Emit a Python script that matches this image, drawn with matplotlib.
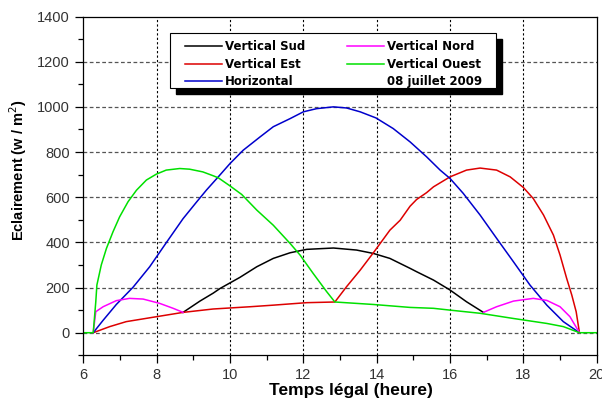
import numpy as np
import matplotlib
matplotlib.use("Agg")
import matplotlib.pyplot as plt
from matplotlib.lines import Line2D
from matplotlib.patches import Rectangle
from matplotlib.ticker import MultipleLocator

# ---- data ----
t_hor = [6.27, 6.54, 6.9, 7.36, 7.81, 8.26, 8.72, 9.08, 9.36, 9.68, 10.0, 10.36, 10.82,
         11.18, 11.64, 12.0, 12.36, 12.82, 13.18, 13.55, 13.98, 14.45, 14.91, 15.36,
         15.73, 16.0, 16.36, 16.82, 17.27, 17.73, 18.18, 18.64, 19.09, 19.53]
v_hor = [0, 55, 125, 202, 292, 398, 505, 577, 632, 690, 749, 808, 867,
         912, 948, 978, 992, 1000, 995, 978, 951, 904, 845, 779,
         720, 683, 617, 521, 418, 314, 211, 122, 49, 0]

t_ouest = [6.0, 6.27, 6.34, 6.37, 6.49, 6.63, 6.81, 6.99, 7.22, 7.45, 7.72, 7.99, 8.26,
           8.63, 8.9, 9.26, 9.54, 9.68, 10.0, 10.32, 10.73, 11.18, 11.64, 11.91, 12.27,
           12.64, 12.86, 13.91, 14.91, 15.55, 16.0, 16.82, 17.73, 18.64, 19.09, 19.53, 20.0]
v_ouest = [0, 0, 137, 211, 300, 373, 447, 513, 580, 631, 676, 702, 720,
           727, 724, 712, 695, 686, 650, 612, 543, 476, 395, 344, 262,
           181, 136, 125, 112, 108, 100, 86, 63, 41, 27, 0, 0]

t_est = [6.27, 6.72, 7.17, 7.81, 8.72, 9.54, 10.55, 11.18, 12.09, 12.86, 13.18, 13.55,
         13.91, 14.36, 14.64, 14.91, 15.09, 15.36, 15.55, 16.0, 16.45, 16.82, 17.27,
         17.64, 18.0, 18.27, 18.55, 18.82, 19.0, 19.18, 19.32, 19.44, 19.53]
v_est = [0, 27, 49, 66, 90, 105, 115, 122, 133, 136, 204, 277,
         354, 454, 498, 560, 590, 620, 646, 690, 720, 729, 720,
         690, 643, 594, 521, 432, 344, 241, 167, 93, 0]

t_nord = [6.27, 6.34, 6.54, 6.9, 7.26, 7.63, 8.08, 8.45, 8.72, np.nan,
          16.91, 17.27, 17.73, 18.27, 18.64, 19.0, 19.27, 19.53]
v_nord = [0, 93, 115, 142, 152, 149, 130, 108, 90, np.nan,
          90, 115, 140, 152, 143, 115, 71, 0]

t_sud = [8.72, 9.18, 9.54, 9.73, 10.27, 10.73, 11.18, 11.64, 12.09, 12.82, 13.45,
         13.91, 14.36, 14.91, 15.09, 15.55, 16.0, 16.45, 16.91]
v_sud = [90, 140, 175, 196, 245, 292, 329, 354, 369, 375, 366,
         351, 329, 285, 270, 233, 189, 137, 90]

labels = ["Vertical Sud", "Vertical Est", "Horizontal", "Vertical Nord", "Vertical Ouest"]
date_text = "08 juillet 2009"
x_label = "Temps légal (heure)"
y_label = "Eclairement (w / m$^2$)"

plt.rcParams['font.family'] = ['Liberation Sans', 'DejaVu Sans']
W, H = 602, 398

fig = plt.figure(figsize=(W / 100, H / 100), dpi=100)
ax = fig.add_axes([0.1384, 0.1073, 0.9912 - 0.1384, 0.9585 - 0.1073])

c_sud, c_est, c_hor, c_nord, c_ouest = "black", "#dd0000", "#0000cc", "#ff00ff", "#00e000"
lw = 1.1
h_sud, = ax.plot(t_sud, v_sud, color=c_sud, lw=lw)
h_est, = ax.plot(t_est, v_est, color=c_est, lw=lw)
h_hor, = ax.plot(t_hor, v_hor, color=c_hor, lw=lw)
h_nord, = ax.plot(t_nord, v_nord, color=c_nord, lw=lw)
h_ouest, = ax.plot(t_ouest, v_ouest, color=c_ouest, lw=lw)

ax.set_xlim(6, 20)
ax.set_ylim(-100, 1400)
ax.xaxis.set_major_locator(MultipleLocator(2))
ax.xaxis.set_minor_locator(MultipleLocator(1))
ax.yaxis.set_major_locator(MultipleLocator(200))
ax.yaxis.set_minor_locator(MultipleLocator(100))
ax.tick_params(which='major', direction='out', length=6, width=0.9, labelsize=10.5,
               labelcolor='#333333')
ax.tick_params(which='minor', direction='out', length=3.5, width=0.9)
for s in ax.spines.values():
    s.set_linewidth(0.9)

for xv in range(8, 20, 2):
    ax.axvline(xv, color='black', lw=0.8, ls=(0, (2, 2)), zorder=0)
for yv in range(0, 1400, 200):
    ax.axhline(yv, color='#555555', lw=0.9, ls=(0, (3, 2)), zorder=0)

ax.set_xlabel(x_label, fontsize=12.5, fontweight='bold', labelpad=0.5, x=0.521)
ax.set_ylabel(y_label, fontsize=10.5, fontweight='bold', labelpad=6, y=0.547)

# legend frame with solid shadow (figure pixel coordinates)
bx0, bx1, by0, by1 = 170, 496, 33, 88
sh = 6
ax.add_patch(Rectangle(((bx0 + sh) / W, 1 - (by1 + sh) / H), (bx1 - bx0) / W, (by1 - by0) / H,
                       transform=fig.transFigure, facecolor='black', edgecolor='black',
                       clip_on=False, zorder=4))
ax.add_patch(Rectangle((bx0 / W, 1 - by1 / H), (bx1 - bx0) / W, (by1 - by0) / H,
                       transform=fig.transFigure, facecolor='white', edgecolor='black',
                       lw=0.8, clip_on=False, zorder=4.5))

blank = Line2D([], [], color='none')
leg = ax.legend([h_sud, h_est, h_hor, h_nord, h_ouest, blank],
                labels + [date_text], ncol=2, loc='upper left',
                bbox_to_anchor=(185 / W, 1 - 40.5 / H), bbox_transform=fig.transFigure,
                borderaxespad=0, borderpad=0,
                prop={'family': 'DejaVu Sans', 'weight': 'bold', 'size': 8.5},
                handlelength=3.1, handletextpad=0.25, columnspacing=3.6,
                labelspacing=0.36, frameon=False)
leg.set_zorder(5)

fig.savefig("out.png", dpi=100)
